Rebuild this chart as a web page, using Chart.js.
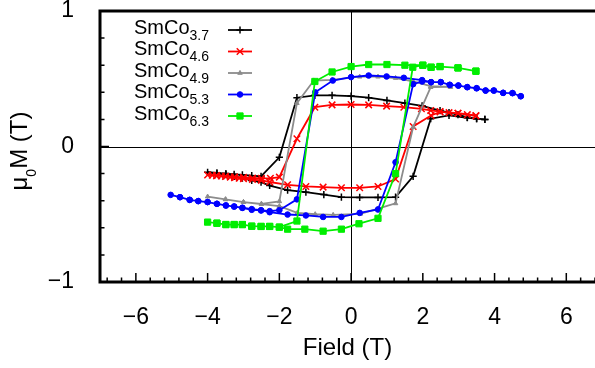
<!DOCTYPE html>
<html>
<head>
<meta charset="utf-8">
<script src="https://cdn.jsdelivr.net/npm/chart.js@4/dist/chart.umd.min.js"></script>
<style>
  html, body { margin: 0; padding: 0; background: #fff; }
  canvas { display: block; }
</style>
</head>
<body>
<canvas id="loops" width="595" height="368"></canvas>
<script>
// hysteresis loops: field sweeps down from +max to -max, then back up
const field37 = [3.73, 3.5, 3.24, 2.98, 2.73, 2.48, 1.98, 1.5, 1.0, 0.49, 0.0, -0.53, -1.01, -1.51, -2.0, -2.51, -2.77, -3.03, -3.26, -3.49, -3.74, -4.0,
    -3.74, -3.49, -3.26, -3.03, -2.77, -2.51, -2.27, -1.77, -1.26, -0.76, -0.27, 0.24, 0.75, 1.24, 1.73, 2.22, 2.73, 3.24, 3.5, 3.73];
const moment37 = [0.20, 0.205, 0.215, 0.235, 0.25, 0.265, 0.30, 0.32, 0.34, 0.36, 0.372, 0.378, 0.378, 0.36, -0.08, -0.22, -0.215, -0.21, -0.205, -0.2, -0.195, -0.19,
    -0.2, -0.207, -0.22, -0.234, -0.25, -0.263, -0.288, -0.322, -0.337, -0.355, -0.374, -0.376, -0.376, -0.374, -0.22, 0.205, 0.23, 0.212, 0.205, 0.20];

const field46 = [3.48, 3.24, 2.98, 2.73, 2.48, 2.22, 1.96, 1.47, 0.99, 0.49, 0.0, -0.53, -1.01, -1.51, -2.0, -2.25, -2.5, -2.75, -3.0, -3.25, -3.5, -3.75, -4.0,
    -3.87, -3.75, -3.62, -3.5, -3.37, -3.25, -3.12, -3.0, -2.75, -2.5, -2.27, -1.77, -1.26, -0.78, -0.27, 0.24, 0.75, 1.24, 1.73, 2.23, 2.48, 2.98, 3.48];
const moment46 = [0.225, 0.235, 0.245, 0.25, 0.258, 0.266, 0.278, 0.29, 0.298, 0.307, 0.31, 0.307, 0.29, 0.057, -0.226, -0.235, -0.235, -0.232, -0.228, -0.224, -0.22, -0.215, -0.21,
    -0.212, -0.215, -0.218, -0.222, -0.226, -0.23, -0.234, -0.238, -0.244, -0.25, -0.262, -0.283, -0.295, -0.30, -0.305, -0.305, -0.295, -0.24, 0.148, 0.229, 0.255, 0.246, 0.229];

const field49 = [2.77, 2.22, 1.73, 1.24, 0.75, 0.24, -0.53, -1.04, -1.51, -2.0, -2.5, -3.0, -3.5, -4.0,
    -3.5, -3.0, -2.5, -2.0, -1.5, -1.0, -0.5, 0.26, 0.73, 1.24, 1.73, 2.22, 2.77];
const moment49 = [0.44, 0.445, 0.48, 0.505, 0.515, 0.515, 0.492, 0.487, 0.32, -0.405, -0.423, -0.41, -0.39, -0.37,
    -0.39, -0.41, -0.425, -0.44, -0.49, -0.5, -0.505, -0.497, -0.46, -0.42, 0.143, 0.438, 0.44];

const field53 = [4.73, 4.5, 4.24, 3.98, 3.75, 3.5, 3.24, 2.99, 2.75, 2.5, 2.23, 1.98, 1.47, 0.99, 0.49, 0.0, -0.51, -1.0, -1.51, -2.0, -2.27, -2.51, -2.77, -3.03, -3.26, -3.49, -3.74, -4.0, -4.26, -4.5, -4.77, -5.03,
    -4.77, -4.5, -4.26, -4.0, -3.74, -3.49, -3.26, -3.03, -2.77, -2.51, -2.27, -1.77, -1.26, -0.78, -0.27, 0.24, 0.75, 1.24, 1.73, 1.98, 2.23, 2.5, 2.75, 2.99, 3.24, 3.5, 3.75, 3.98, 4.24, 4.5, 4.73];
const moment53 = [0.371, 0.394, 0.396, 0.413, 0.413, 0.43, 0.438, 0.45, 0.455, 0.475, 0.475, 0.49, 0.507, 0.517, 0.524, 0.512, 0.487, 0.40, -0.39, -0.47, -0.477, -0.47, -0.462, -0.452, -0.443, -0.435, -0.423, -0.41, -0.403, -0.394, -0.374, -0.357,
    -0.374, -0.394, -0.403, -0.41, -0.423, -0.435, -0.443, -0.453, -0.467, -0.472, -0.485, -0.502, -0.509, -0.52, -0.52, -0.49, -0.465, -0.116, 0.46, 0.48, 0.475, 0.475, 0.455, 0.45, 0.438, 0.43, 0.413, 0.413, 0.396, 0.394, 0.371];

const field63 = [3.48, 2.98, 2.48, 2.23, 2.0, 1.5, 1.0, 0.49, 0.0, -0.53, -1.01, -1.51, -2.0, -2.27, -2.51, -2.77, -3.03, -3.26, -3.49, -3.74, -4.0,
    -3.74, -3.49, -3.26, -3.03, -2.77, -2.51, -2.27, -2.0, -1.77, -1.29, -0.78, -0.27, 0.22, 0.75, 1.24, 1.72, 2.0, 2.23, 2.48, 2.98, 3.48];
const moment63 = [0.556, 0.58, 0.59, 0.585, 0.60, 0.60, 0.605, 0.605, 0.59, 0.55, 0.48, -0.55, -0.595, -0.59, -0.59, -0.588, -0.576, -0.576, -0.576, -0.566, -0.558,
    -0.566, -0.576, -0.576, -0.576, -0.588, -0.59, -0.59, -0.595, -0.61, -0.61, -0.625, -0.61, -0.57, -0.53, -0.20, 0.585, 0.60, 0.585, 0.59, 0.58, 0.556];

const sampleNames = ["3.7", "4.6", "4.9", "5.3", "6.3"];
const xTickValues = [-6, -4, -2, 0, 2, 4, 6];
const yTickValues = [-1, 0, 1];

const series = [
    { sub: sampleNames[0], xs: field37, ys: moment37, color: "#000000", style: "cross", radius: 3.6, pw: 1.5 },
    { sub: sampleNames[1], xs: field46, ys: moment46, color: "#ff0000", style: "crossRot", radius: 4.6, pw: 1.5 },
    { sub: sampleNames[2], xs: field49, ys: moment49, color: "#8c8c8c", style: "triangle", radius: 2.6, pw: 1 },
    { sub: sampleNames[3], xs: field53, ys: moment53, color: "#0000ff", style: "circle", radius: 2.8, pw: 1 },
    { sub: sampleNames[4], xs: field63, ys: moment63, color: "#00ee00", style: "rect", radius: 4.4, pw: 1 }
];

const FONT = "'Liberation Sans', Arial, Helvetica, sans-serif";
const minus = (v) => String(v).replace("-", "\u2212");

// inward tics, frame, zero lines, key and the y label (gnuplot look)
const decorations = {
    id: "decorations",
    beforeDatasetsDraw(chart) {
        const { ctx, chartArea: a, scales: { x, y } } = chart;
        const x0 = Math.round(x.getPixelForValue(0)) + 0.5;
        const y0 = Math.round(y.getPixelForValue(0)) + 0.5;
        ctx.save();
        ctx.strokeStyle = "#000";
        ctx.lineWidth = 1;
        ctx.beginPath();
        ctx.moveTo(x0, a.top);
        ctx.lineTo(x0, a.bottom);
        ctx.moveTo(a.left, y0);
        ctx.lineTo(a.right, y0);
        ctx.stroke();
        ctx.restore();
    },
    afterDraw(chart) {
        const { ctx, chartArea: a, scales: { x, y } } = chart;
        ctx.save();
        ctx.strokeStyle = "#000";

        // tics
        ctx.lineWidth = 1.5;
        ctx.beginPath();
        for (let k = -17; k <= 17; k++) {
            const v = k * 0.4;
            const px = x.getPixelForValue(v);
            if (px < a.left + 1 || px > a.right) continue;
            const len = (k % 5 === 0) ? 9 : 4.5;
            ctx.moveTo(px, a.bottom);
            ctx.lineTo(px, a.bottom - len);
        }
        for (let k = -5; k <= 5; k++) {
            const py = y.getPixelForValue(k * 0.2);
            const len = (k % 5 === 0) ? 9 : 4.5;
            ctx.moveTo(a.left, py);
            ctx.lineTo(a.left + len, py);
        }
        ctx.stroke();

        // frame: left, bottom, top
        ctx.lineWidth = 3;
        ctx.lineCap = "square";
        ctx.beginPath();
        ctx.moveTo(a.right + 2, a.top);
        ctx.lineTo(a.left, a.top);
        ctx.lineTo(a.left, a.bottom);
        ctx.lineTo(a.right + 2, a.bottom);
        ctx.stroke();

        // key
        ctx.lineCap = "butt";
        series.forEach((s, i) => {
            const ly = 30 + i * 21.5;
            ctx.fillStyle = "#000";
            ctx.textAlign = "left";
            ctx.textBaseline = "alphabetic";
            ctx.font = "20px " + FONT;
            ctx.fillText("SmCo", 134, ly + 3.5);
            const w = ctx.measureText("SmCo").width;
            ctx.font = "14px " + FONT;
            ctx.fillText(s.sub, 134 + w, ly + 9.5);

            ctx.strokeStyle = s.color;
            ctx.fillStyle = s.color;
            ctx.lineWidth = 1.8;
            ctx.beginPath();
            ctx.moveTo(228, ly);
            ctx.lineTo(252, ly);
            ctx.stroke();
            ctx.lineWidth = s.pw;
            if (Chart.helpers && Chart.helpers.drawPoint) {
                Chart.helpers.drawPoint(ctx, { pointStyle: s.style, radius: s.radius, rotation: 0, borderWidth: s.pw }, 240, ly);
            }
        });

        // y axis label: mu_0 M (T), rotated
        ctx.fillStyle = "#000";
        ctx.translate(27, 151);
        ctx.rotate(-Math.PI / 2);
        ctx.textBaseline = "alphabetic";
        ctx.textAlign = "left";
        const big = "24px " + FONT, small = "14px " + FONT;
        ctx.font = big;
        const w1 = ctx.measureText("\u03bc").width;
        const w3 = ctx.measureText("M (T)").width;
        ctx.font = small;
        const w2 = ctx.measureText("0").width;
        let cx = -(w1 + w2 + w3) / 2;
        ctx.font = big;
        ctx.fillText("\u03bc", cx, 0);
        cx += w1;
        ctx.font = small;
        ctx.fillText("0", cx, 9);
        cx += w2;
        ctx.font = big;
        ctx.fillText("M (T)", cx, 0);
        ctx.restore();
    }
};

new Chart(document.getElementById("loops"), {
    type: "scatter",
    data: {
        datasets: series.map((s, i) => ({
            label: "SmCo" + s.sub,
            data: s.xs.map((v, j) => ({ x: v, y: s.ys[j] })),
            showLine: true,
            tension: 0,
            borderColor: s.color,
            backgroundColor: s.color,
            borderWidth: 1.8,
            pointStyle: s.style,
            pointRadius: s.radius,
            pointBorderWidth: s.pw,
            pointBackgroundColor: s.color,
            pointBorderColor: s.color,
            order: 5 - i
        }))
    },
    options: {
        responsive: false,
        animation: false,
        devicePixelRatio: 1,
        layout: { autoPadding: false, padding: { top: 11, right: 0, left: 0, bottom: 0 } },
        plugins: {
            legend: { display: false },
            tooltip: { enabled: false }
        },
        scales: {
            x: {
                type: "linear",
                min: -7,
                max: 6.8,
                grid: { display: false },
                border: { display: false },
                ticks: {
                    stepSize: 2,
                    includeBounds: false,
                    padding: 16,
                    color: "#000",
                    font: { family: FONT, size: 23, lineHeight: 1 },
                    callback: (v) => xTickValues.includes(v) ? minus(v) : ""
                },
                title: {
                    display: true,
                    text: "Field (T)",
                    color: "#000",
                    font: { family: FONT, size: 24 },
                    padding: { top: 0, bottom: 5 }
                },
                afterFit(scale) {
                    scale.height = 86;
                    scale.paddingLeft = 0;
                    scale.paddingRight = 0;
                }
            },
            y: {
                type: "linear",
                min: -1,
                max: 1,
                grid: { display: false },
                border: { display: false },
                ticks: {
                    stepSize: 1,
                    padding: 18,
                    color: "#000",
                    font: { family: FONT, size: 23, lineHeight: 1 },
                    callback: (v) => yTickValues.includes(v) ? minus(v) : ""
                },
                afterFit(scale) {
                    scale.width = 100;
                    scale.paddingTop = 0;
                    scale.paddingBottom = 0;
                }
            }
        }
    },
    plugins: [decorations]
});
</script>
</body>
</html>
